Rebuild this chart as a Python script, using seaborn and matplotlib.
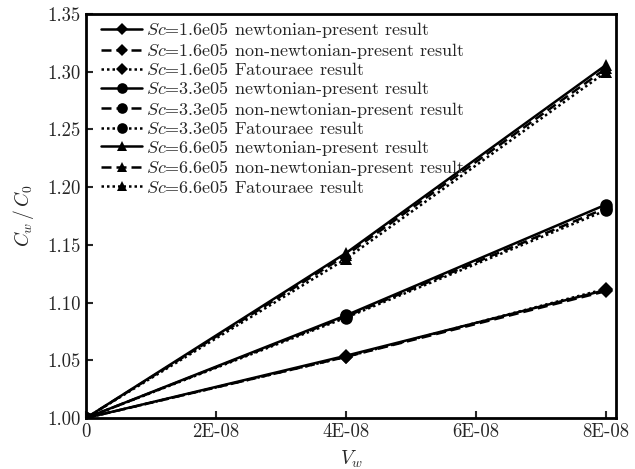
import matplotlib
matplotlib.use("Agg")
import matplotlib.pyplot as plt
import seaborn as sns
import pandas as pd

# ---- data ----
vw = [0.0, 4e-8, 8e-8]
sc16_newt = [1.000, 1.054, 1.111]
sc16_nonnewt = [1.000, 1.053, 1.110]
sc16_fat = [1.000, 1.053, 1.112]
sc33_newt = [1.000, 1.089, 1.185]
sc33_nonnewt = [1.000, 1.088, 1.182]
sc33_fat = [1.000, 1.087, 1.180]
sc66_newt = [1.000, 1.143, 1.306]
sc66_nonnewt = [1.000, 1.141, 1.303]
sc66_fat = [1.000, 1.138, 1.300]

labels = [
    r"$Sc$=1.6e05 newtonian-present result",
    r"$Sc$=1.6e05 non-newtonian-present result",
    r"$Sc$=1.6e05 Fatouraee result",
    r"$Sc$=3.3e05 newtonian-present result",
    r"$Sc$=3.3e05 non-newtonian-present result",
    r"$Sc$=3.3e05 Fatouraee result",
    r"$Sc$=6.6e05 newtonian-present result",
    r"$Sc$=6.6e05 non-newtonian-present result",
    r"$Sc$=6.6e05 Fatouraee result",
]
series = [sc16_newt, sc16_nonnewt, sc16_fat,
          sc33_newt, sc33_nonnewt, sc33_fat,
          sc66_newt, sc66_nonnewt, sc66_fat]
xticks = [0, 2e-8, 4e-8, 6e-8, 8e-8]
xticklabels = ["0", "2E-08", "4E-08", "6E-08", "8E-08"]
yticks = [1.00, 1.05, 1.10, 1.15, 1.20, 1.25, 1.30, 1.35]
yticklabels = ["1.00", "1.05", "1.10", "1.15", "1.20", "1.25", "1.30", "1.35"]

# ---- style ----
sns.set_theme(style="white")
plt.rcParams["font.family"] = ["cmr10", "DejaVu Serif"]
plt.rcParams["mathtext.fontset"] = "cm"
plt.rcParams["axes.formatter.use_mathtext"] = True

fig = plt.figure(figsize=(6.35, 4.69), dpi=100)
ax = fig.add_axes([0.1354, 0.1087, 0.8346, 0.8613])

markers = ["D", "D", "D", "o", "o", "o", "^", "^", "^"]
msizes = [7, 7, 7, 9, 9, 9, 8, 8, 8]
styles = [(None), (4, 2), (1, 1.2)] * 3

for i, (vals, lab) in enumerate(zip(series, labels)):
    df = pd.DataFrame({"x": vw, "y": vals})
    kw = {}
    if styles[i] is not None:
        kw["dashes"] = styles[i]
    sns.lineplot(data=df, x="x", y="y", ax=ax, color="black", lw=1.8,
                 marker=markers[i], markersize=msizes[i], markeredgewidth=0,
                 label=lab, **kw)

ax.set_xlim(0, 8.15e-8)
ax.set_ylim(1.0, 1.35)
ax.set_xticks(xticks)
ax.set_xticklabels(xticklabels)
ax.set_yticks(yticks)
ax.set_yticklabels(yticklabels)
ax.tick_params(axis="both", direction="in", length=5, width=1.5,
               labelsize=13.5, left=True, bottom=True, pad=4)
for s in ax.spines.values():
    s.set_linewidth(2)
    s.set_color("black")

ax.set_xlabel(r"$V_w$", fontsize=14, labelpad=5)
ax.set_ylabel(r"$C_w\,/\,C_0$", fontsize=14, labelpad=8)

leg = ax.legend(loc="upper left", frameon=False, fontsize=13,
                handlelength=2.25, labelspacing=0.03, borderaxespad=0.1,
                handletextpad=0.2, borderpad=0.25, bbox_to_anchor=(0.017, 1.0),
                markerscale=0.85)

fig.savefig("out.png", dpi=100)
